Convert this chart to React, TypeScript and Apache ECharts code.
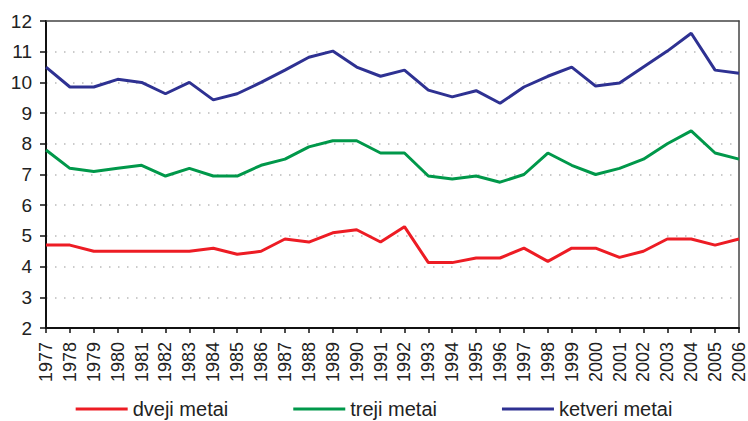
import React, { useEffect, useRef } from "react";
import * as echarts from "echarts";

const years = [
  "1977", "1978", "1979", "1980", "1981", "1982", "1983", "1984", "1985", "1986",
  "1987", "1988", "1989", "1990", "1991", "1992", "1993", "1994", "1995", "1996",
  "1997", "1998", "1999", "2000", "2001", "2002", "2003", "2004", "2005", "2006",
];

const dveji = [
  4.7, 4.7, 4.5, 4.5, 4.5, 4.5, 4.5, 4.6, 4.4, 4.5,
  4.9, 4.8, 5.1, 5.2, 4.8, 5.3, 4.13, 4.13, 4.28, 4.28,
  4.6, 4.17, 4.6, 4.6, 4.3, 4.5, 4.9, 4.9, 4.7, 4.9,
];

const treji = [
  7.8, 7.2, 7.1, 7.2, 7.3, 6.95, 7.2, 6.95, 6.95, 7.3,
  7.5, 7.9, 8.1, 8.1, 7.7, 7.7, 6.95, 6.85, 6.95, 6.75,
  7.0, 7.7, 7.3, 7.0, 7.2, 7.5, 8.0, 8.42, 7.7, 7.5,
];

const ketveri = [
  10.5, 9.85, 9.85, 10.1, 10.0, 9.63, 10.0, 9.43, 9.63, 10.0,
  10.4, 10.82, 11.02, 10.5, 10.2, 10.4, 9.75, 9.53, 9.73, 9.32,
  9.85, 10.2, 10.5, 9.88, 9.98, 10.5, 11.02, 11.6, 10.4, 10.3,
];

const seriesNames = ["dveji metai", "treji metai", "ketveri metai"];
const colors = ["#ed1c24", "#00984a", "#2e3192"];

export default function App() {
  const ref = useRef<HTMLDivElement>(null);
  useEffect(() => {
    if (!ref.current) return;
    const chart = echarts.init(ref.current, null, { renderer: "svg" });
    const font = "'Liberation Sans', Arial, sans-serif";
    const mk = (name: string, data: number[], color: string) => ({
      name,
      type: "line",
      data,
      symbol: "none",
      lineStyle: { color, width: 3 },
      itemStyle: { color },
      z: 5,
    });
    chart.setOption({
      animation: false,
      backgroundColor: "#ffffff",
      grid: {
        left: 46,
        right: 9,
        top: 21,
        bottom: 93,
        show: false,
      },
      legend: {
        left: "center",
        top: 394,
        icon: "rect",
        itemWidth: 52,
        itemHeight: 3,
        itemGap: 65,
        textStyle: { fontFamily: font, fontSize: 20, color: "#222" },
        data: seriesNames,
      },
      xAxis: [
        {
          type: "category",
          data: years,
          boundaryGap: false,
          axisLine: { lineStyle: { color: "#111", width: 2 } },
          axisTick: { show: true, length: 5, inside: false, lineStyle: { color: "#111", width: 1.5 } },
          axisLabel: {
            rotate: 90,
            interval: 0,
            margin: 14,
            fontFamily: font,
            fontSize: 18,
            color: "#222",
          },
          splitLine: { show: false },
        },
        {
          type: "category",
          data: years,
          boundaryGap: false,
          position: "top",
          axisLine: { show: true, lineStyle: { color: "#444", width: 1.5 } },
          axisTick: { show: false },
          axisLabel: { show: false },
          splitLine: { show: false },
        },
      ],
      yAxis: [
        {
          type: "value",
          min: 2,
          max: 12,
          interval: 1,
          axisLine: { show: true, lineStyle: { color: "#111", width: 2 } },
          axisTick: { show: true, length: 6, lineStyle: { color: "#111", width: 1.5 } },
          axisLabel: { margin: 14, fontFamily: font, fontSize: 19, color: "#222" },
          splitLine: {
            show: true,
            showMaxLine: false,
            showMinLine: false,
            lineStyle: { color: "#bbb", width: 1.5, type: [1.5, 7.5] },
          },
        },
        {
          type: "value",
          min: 2,
          max: 12,
          interval: 1,
          position: "right",
          axisLine: { show: true, lineStyle: { color: "#444", width: 1.5 } },
          axisTick: { show: false },
          axisLabel: { show: false },
          splitLine: { show: false },
        },
      ],
      series: [
        mk(seriesNames[0], dveji, colors[0]),
        mk(seriesNames[1], treji, colors[1]),
        mk(seriesNames[2], ketveri, colors[2]),
      ],
    });
    return () => chart.dispose();
  }, []);
  return <div ref={ref} style={{ width: 748, height: 421, position: "absolute", left: 0, top: 0 }} />;
}
